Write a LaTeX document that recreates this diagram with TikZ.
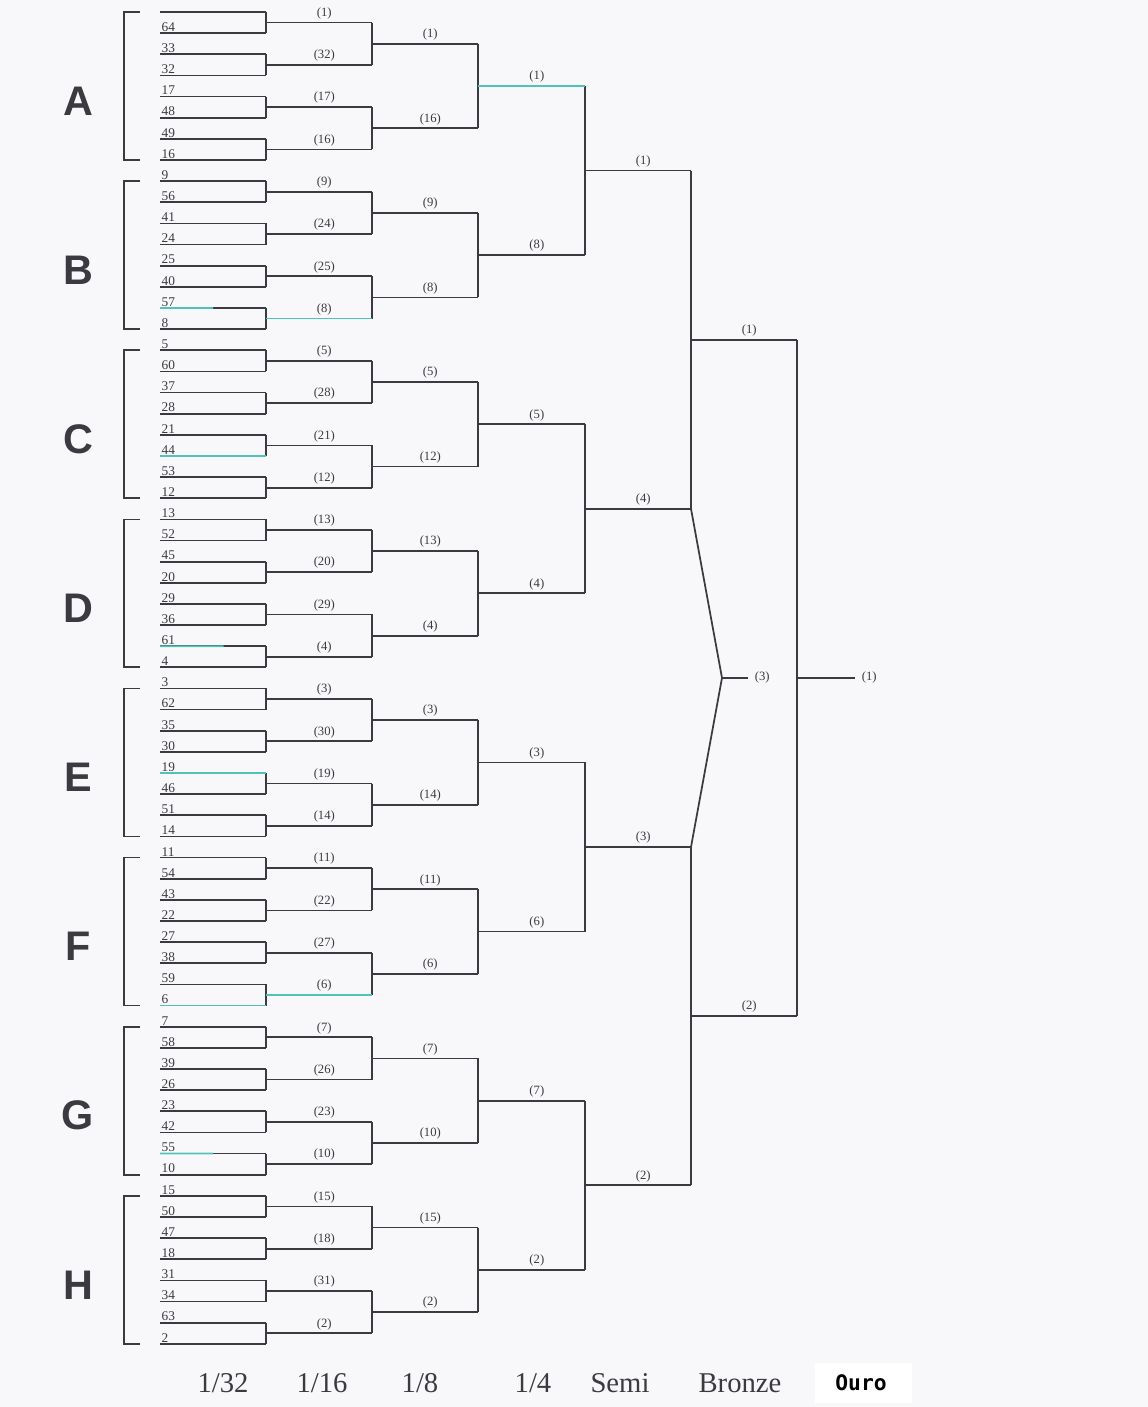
\documentclass[tikz,border=0pt]{standalone}
\usepackage{fontspec}
\setmainfont{Liberation Serif}
\newfontfamily\grpfont{Liberation Sans}
\newfontfamily\ourofont{DejaVu Sans Mono}
\usetikzlibrary{calc}
\definecolor{paper}{RGB}{248,248,250}
\definecolor{ink}{RGB}{58,58,64}
\definecolor{scanteal}{RGB}{80,195,185}
\tikzset{
  bline/.style={draw=ink,line width=1.3pt},
  hl/.style={draw=scanteal,line width=1.3pt},
  seed/.style={anchor=south west,inner sep=1pt,text=ink,font=\fontsize{10}{10}\selectfont},
  res/.style={anchor=south,inner sep=2pt,text=ink,font=\fontsize{9.5}{9.5}\selectfont},
  grp/.style={text=ink,font=\grpfont\bfseries\fontsize{31}{31}\selectfont},
  rnd/.style={anchor=base,text=ink,font=\fontsize{21.5}{21.5}\selectfont},
}
\begin{document}
\begin{tikzpicture}[x=0.75pt,y=-0.75pt]
  \path[use as bounding box,fill=paper] (0,0) rectangle (1148,1407);
  % 1/32
  \foreach \s [count=\i from 0] in {{},64,33,32,17,48,49,16,9,56,41,24,25,40,57,8,5,60,37,28,21,44,53,12,13,52,45,20,29,36,61,4,3,62,35,30,19,46,51,14,11,54,43,22,27,38,59,6,7,58,39,26,23,42,55,10,15,50,47,18,31,34,63,2} {
    \coordinate (p\i) at (160,{12+21.14*\i});
    \coordinate (w0-\i) at (266,{12+21.14*\i});
    \draw[bline] (p\i) -- (w0-\i);
    \node[seed] (s\i) at (p\i) {\s};
  }
  % 1/16
  \foreach \w [count=\k from 0] in {1,32,17,16,9,24,25,8,5,28,21,12,13,20,29,4,3,30,19,14,11,22,27,6,7,26,23,10,15,18,31,2} {
    \pgfmathtruncatemacro\a{2*\k}
    \pgfmathtruncatemacro\b{2*\k+1}
    \draw[bline] (w0-\a) -- (w0-\b);
    \coordinate (m1-\k) at ($(w0-\a)!0.5!(w0-\b)$);
    \coordinate (w1-\k) at ($(m1-\k)+(106,0)$);
    \draw[bline] (m1-\k) -- node[res,pos=0.55] (l1-\k) {(\w)} (w1-\k);
  }
  % 1/8
  \foreach \w [count=\k from 0] in {1,16,9,8,5,12,13,4,3,14,11,6,7,10,15,2} {
    \pgfmathtruncatemacro\a{2*\k}
    \pgfmathtruncatemacro\b{2*\k+1}
    \draw[bline] (w1-\a) -- (w1-\b);
    \coordinate (m2-\k) at ($(w1-\a)!0.5!(w1-\b)$);
    \coordinate (w2-\k) at ($(m2-\k)+(106,0)$);
    \draw[bline] (m2-\k) -- node[res,pos=0.55] (l2-\k) {(\w)} (w2-\k);
  }
  % 1/4
  \foreach \w [count=\k from 0] in {1,8,5,4,3,6,7,2} {
    \pgfmathtruncatemacro\a{2*\k}
    \pgfmathtruncatemacro\b{2*\k+1}
    \draw[bline] (w2-\a) -- (w2-\b);
    \coordinate (m3-\k) at ($(w2-\a)!0.5!(w2-\b)$);
    \coordinate (w3-\k) at ($(m3-\k)+(107,0)$);
    \draw[bline] (m3-\k) -- node[res,pos=0.55] (l3-\k) {(\w)} (w3-\k);
  }
  % semi
  \foreach \w [count=\k from 0] in {1,4,3,2} {
    \pgfmathtruncatemacro\a{2*\k}
    \pgfmathtruncatemacro\b{2*\k+1}
    \draw[bline] (w3-\a) -- (w3-\b);
    \coordinate (m4-\k) at ($(w3-\a)!0.5!(w3-\b)$);
    \coordinate (w4-\k) at ($(m4-\k)+(106,0)$);
    \draw[bline] (m4-\k) -- node[res,pos=0.55] (l4-\k) {(\w)} (w4-\k);
  }
  \foreach \w [count=\k from 0] in {1,2} {
    \pgfmathtruncatemacro\a{2*\k}
    \pgfmathtruncatemacro\b{2*\k+1}
    \draw[bline] (w4-\a) -- (w4-\b);
    \coordinate (m5-\k) at ($(w4-\a)!0.5!(w4-\b)$);
    \coordinate (w5-\k) at ($(m5-\k)+(106,0)$);
    \draw[bline] (m5-\k) -- node[res,pos=0.55] (l5-\k) {(\w)} (w5-\k);
  }
  % bronze e ouro
  \coordinate (mb) at ($(w4-1)!0.5!(w4-2)$);
  \coordinate (br) at ($(mb)+(31,0)$);
  \coordinate (brf) at ($(br)+(26,0)$);
  \draw[bline] (w4-1) -- (br) -- (w4-2);
  \draw[bline] (br) -- (brf);
  \node[res,anchor=west,inner sep=5pt] (bronze) at (brf) {(3)};
  \draw[bline] (w5-0) -- (w5-1);
  \coordinate (mf) at ($(w5-0)!0.5!(w5-1)$);
  \coordinate (fin) at ($(mf)+(58,0)$);
  \draw[bline] (mf) -- (fin);
  \node[res,anchor=west,inner sep=5pt] (ouro) at (fin) {(1)};
  % grupos
  \foreach \g [count=\j from 0] in {A,...,H} {
    \pgfmathtruncatemacro\t{8*\j}
    \pgfmathtruncatemacro\u{8*\j+7}
    \draw[bline] ($(p\t)+(-20,0)$) -| ($(p\u)+(-36,0)$) -- ($(p\u)+(-20,0)$);
    \coordinate (c\g) at ($(p\t)!0.5!(p\u)$);
    \node[grp] (g\g) at ($(c\g)+(-82,15)$) {\g};
  }
  % marcas do scan
  \draw[hl] (p14) -- ($(p14)!0.5!(w0-14)$);
  \draw[hl] (m1-7) -- (w1-7);
  \draw[hl] (p21) -- (w0-21);
  \draw[hl] (p30) -- ($(p30)!0.6!(w0-30)$);
  \draw[hl] (p36) -- (w0-36);
  \draw[hl] (p47) -- (w0-47);
  \draw[hl] (m1-23) -- (w1-23);
  \draw[hl] (p54) -- ($(p54)!0.5!(w0-54)$);
  \draw[hl] (m3-0) -- (w3-0);
  % fases
  \node[rnd] (r32) at (223,1392) {1/32};
  \node[rnd] (r16) at (322,1392) {1/16};
  \node[rnd] (r8) at (420,1392) {1/8};
  \node[rnd] (r4) at (533,1392) {1/4};
  \node[rnd] (rs) at (620,1392) {Semi};
  \node[rnd] (rb) at (740,1392) {Bronze};
  \fill[white] (815,1363) rectangle (912,1403);
  \node[anchor=base,font=\ourofont\bfseries\fontsize{16}{16}\selectfont] (ro) at (861,1390) {Ouro};
\end{tikzpicture}
\end{document}
